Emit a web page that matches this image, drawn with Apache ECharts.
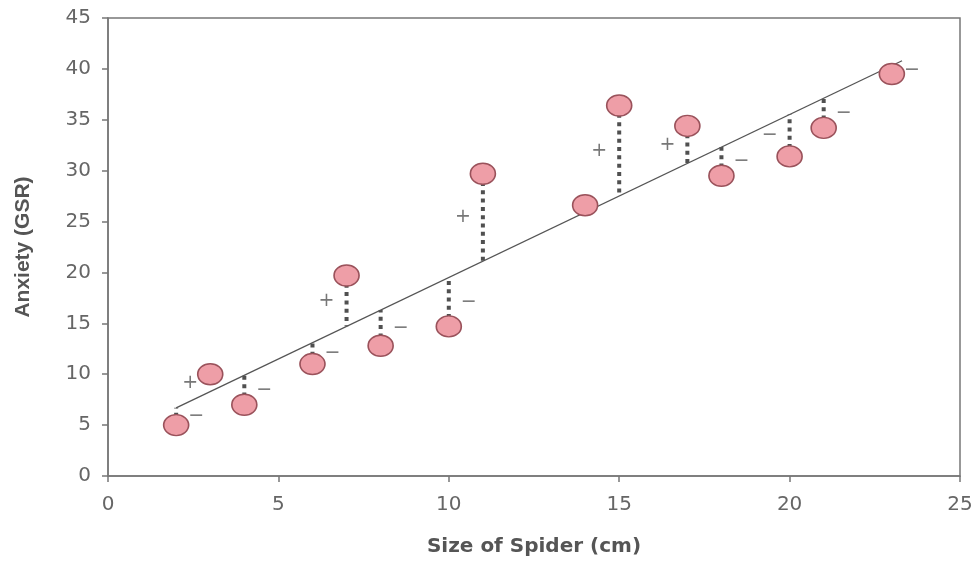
<!DOCTYPE html>
<html>
<head>
<meta charset="utf-8">
<script src="https://cdn.jsdelivr.net/npm/echarts@6/dist/echarts.min.js"></script>
<style>
  html, body { margin: 0; padding: 0; background: #fff; }
  #chart { width: 976px; height: 563px; }
</style>
</head>
<body>
<div id="chart"></div>
<script>
// spider size (cm) vs anxiety (GSR)
var sizes = [2, 3, 4, 6, 7, 8, 10, 11, 14, 15, 17, 18, 20, 21, 23];
var anxiety = [5, 10, 7, 11, 19.7, 12.8, 14.7, 29.7, 26.6, 36.4, 34.4, 29.5, 31.4, 34.2, 39.5];
// residual drawn (1) or not (0)
var showResidual = [1, 0, 1, 1, 1, 1, 1, 1, 0, 1, 1, 1, 1, 1, 0];
// sign of each residual and which side of it the sign sits on (-1 left, 1 right, 0 none)
var signs = ['−', '+', '−', '−', '+', '−', '−', '+', '', '+', '+', '−', '−', '−', '−'];
var signSide = [1, -1, 1, 1, -1, 1, 1, -1, 0, -1, -1, 1, -1, 1, 1];
// regression line end points
var lineX = [2, 23.3];
var lineY = [6.7, 40.8];
var xTicks = [0, 25, 5];
var yTicks = [0, 45, 5];

var slope = (lineY[1] - lineY[0]) / (lineX[1] - lineX[0]);
var intercept = lineY[0] - slope * lineX[0];
function fit(x) { return intercept + slope * x; }

var pts = sizes.map(function (x, i) { return [x, anxiety[i]]; });
var resPts = [];
var signPts = [];
sizes.forEach(function (x, i) {
    if (showResidual[i]) resPts.push([x, anxiety[i]]);
    if (signs[i]) signPts.push([x, (anxiety[i] + fit(x)) / 2, i]);
});

var font = '"DejaVu Sans", "Liberation Sans", Arial, sans-serif';
var axisCol = '#777';

var myChart = echarts.init(document.getElementById('chart'));
myChart.setOption({
    backgroundColor: '#fff',
    animation: false,
    grid: {
        left: 108, right: 16, top: 18, bottom: 87,
        show: true, borderColor: axisCol, borderWidth: 1.5
    },
    xAxis: {
        type: 'value',
        min: xTicks[0], max: xTicks[1], interval: xTicks[2],
        name: 'Size of Spider (cm)',
        nameLocation: 'middle',
        nameGap: 61,
        nameTextStyle: { fontFamily: font, fontSize: 20, fontWeight: 'bold', color: '#555' },
        axisLine: { lineStyle: { color: axisCol, width: 1.5 } },
        axisTick: { show: true, length: 6, lineStyle: { color: axisCol, width: 1.5 } },
        axisLabel: { margin: 19, fontFamily: font, fontSize: 20, color: '#666' },
        splitLine: { show: false }
    },
    yAxis: {
        type: 'value',
        min: yTicks[0], max: yTicks[1], interval: yTicks[2],
        name: 'Anxiety (GSR)',
        nameLocation: 'middle',
        nameGap: 74,
        nameTextStyle: { fontFamily: '"Liberation Sans", Arial, sans-serif', fontSize: 21, fontWeight: 'bold', color: '#555' },
        axisLine: { show: true, lineStyle: { color: axisCol, width: 1.5 } },
        axisTick: { show: true, length: 6, lineStyle: { color: axisCol, width: 1.5 } },
        axisLabel: { margin: 17, fontFamily: font, fontSize: 20, color: '#666' },
        splitLine: { show: false }
    },
    series: [
        {
            // dotted residuals
            type: 'custom',
            z: 2,
            data: resPts,
            renderItem: function (params, api) {
                var x = api.value(0);
                var p1 = api.coord([x, api.value(1)]);
                var p2 = api.coord([x, fit(x)]);
                return {
                    type: 'line',
                    shape: { x1: p1[0], y1: p1[1], x2: p2[0], y2: p2[1] },
                    style: { stroke: '#505050', lineWidth: 4, lineDash: [4, 4.3] }
                };
            }
        },
        {
            // regression line
            type: 'line',
            z: 3,
            data: lineX.map(function (x, i) { return [x, lineY[i]]; }),
            showSymbol: false,
            symbol: 'none',
            lineStyle: { color: '#555', width: 1.3 }
        },
        {
            type: 'scatter',
            z: 4,
            data: pts,
            symbol: 'circle',
            symbolSize: [25, 21],
            itemStyle: { color: '#ee9ea7', borderColor: '#9a525b', borderWidth: 1.5, opacity: 1 }
        },
        {
            // + / − signs
            type: 'scatter',
            z: 5,
            data: signPts,
            symbolSize: 0,
            label: {
                show: true,
                position: 'inside',
                fontFamily: '"DejaVu Sans", sans-serif',
                fontSize: 19,
                color: '#555',
                formatter: function (p) { return signs[p.value[2]]; }
            },
            labelLayout: function (p) {
                var i = signPts[p.dataIndex][2];
                return { dx: signSide[i] * 20 };
            }
        }
    ]
});
</script>
</body>
</html>
